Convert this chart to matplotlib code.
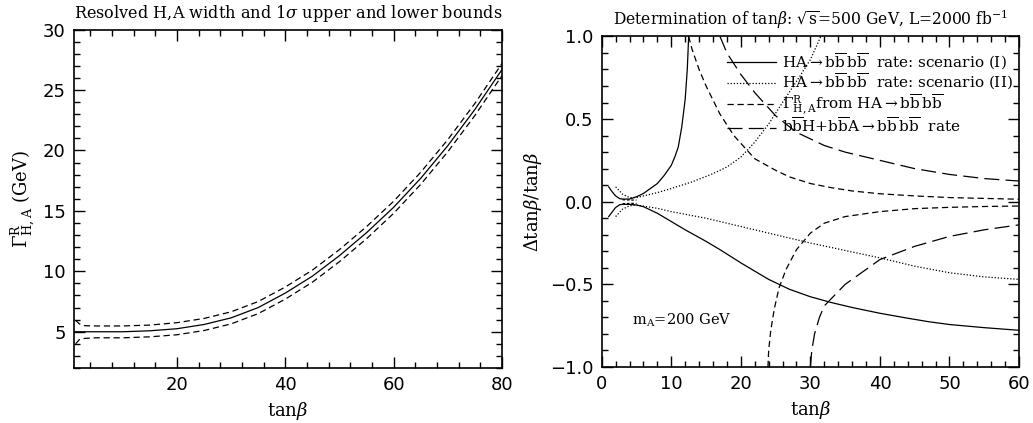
import matplotlib
matplotlib.use("Agg")
import matplotlib.pyplot as plt
from matplotlib.ticker import MultipleLocator, FuncFormatter

plt.rcParams["font.family"] = ["DejaVu Serif"]
plt.rcParams["mathtext.fontset"] = "dejavuserif"

# left panel: resolved width and 1 sigma bounds
width_tb = [1, 5, 10, 15, 20, 25, 30, 35, 40, 45, 50, 55, 60, 65, 70, 75, 80]
width_central = [5.0, 5.0, 5.0, 5.08, 5.25, 5.6, 6.15, 7.0, 8.2, 9.6, 11.3, 13.2, 15.3, 17.7, 20.4, 23.4, 26.7]
bound_tb = [1.3, 2, 3, 5, 10, 15, 20, 25, 30, 35, 40, 45, 50, 55, 60, 65, 70, 75, 80]
width_upper = [5.95, 5.65, 5.5, 5.48, 5.48, 5.55, 5.75, 6.1, 6.65, 7.5, 8.7, 10.1, 11.8, 13.7, 15.8, 18.2, 20.9, 23.9, 27.2]
width_lower = [4.0, 4.35, 4.45, 4.5, 4.5, 4.58, 4.75, 5.1, 5.65, 6.5, 7.7, 9.1, 10.8, 12.7, 14.8, 17.2, 19.9, 22.9, 26.2]

# right panel: relative tan(beta) errors
s1_up_tb = [1, 1.5, 2, 2.6, 3, 4, 5, 6, 7, 8, 9, 10, 10.5, 11, 11.5, 12, 12.3, 12.5]
s1_up = [0.09, 0.06, 0.035, 0.018, 0.016, 0.016, 0.03, 0.05, 0.08, 0.11, 0.16, 0.22, 0.27, 0.33, 0.45, 0.62, 0.8, 1.0]
s1_lo_tb = [1, 2, 2.6, 3, 4, 5, 6, 8, 10, 12, 15, 17, 20, 24, 27, 30, 33, 36, 40, 44, 47, 50, 55, 60]
s1_lo = [-0.09, -0.035, -0.018, -0.016, -0.016, -0.02, -0.03, -0.07, -0.12, -0.17, -0.24, -0.29, -0.37, -0.47, -0.53, -0.575, -0.61, -0.64, -0.675, -0.705, -0.726, -0.743, -0.762, -0.778]

s2_up_tb = [2, 3, 4, 5, 8, 10, 13, 16, 18, 20, 22, 24, 25.6, 28.5, 30, 31.5]
s2_up = [0.09, 0.045, 0.025, 0.025, 0.055, 0.08, 0.12, 0.17, 0.21, 0.27, 0.36, 0.47, 0.575, 0.76, 0.86, 1.0]
s2_lo_tb = [2, 3, 4, 5, 8, 10, 15, 20, 25, 30, 35, 40, 45, 50, 55, 60]
s2_lo = [-0.09, -0.045, -0.025, -0.02, -0.04, -0.06, -0.1, -0.15, -0.2, -0.25, -0.295, -0.34, -0.39, -0.43, -0.455, -0.47]

gam_up_tb = [12.5, 13, 14, 15, 17, 19, 22, 25, 27, 30, 33, 36, 40, 45, 50, 55, 60]
gam_up = [1.0, 0.92, 0.8, 0.7, 0.53, 0.4, 0.26, 0.19, 0.15, 0.11, 0.085, 0.065, 0.048, 0.035, 0.025, 0.02, 0.015]
gam_lo_tb = [23.9, 24.0, 24.3, 24.8, 25.5, 26.5, 28, 30, 32, 35, 40, 45, 50, 55, 60]
gam_lo = [-1.0, -0.9, -0.78, -0.65, -0.52, -0.41, -0.29, -0.19, -0.13, -0.09, -0.06, -0.042, -0.034, -0.029, -0.026]
gam_small_tb = [3.0, 4.0, 5.0]
gam_small_up = [0.012, 0.01, 0.01]
gam_small_lo = [-0.012, -0.01, -0.01]

bbh_up_tb = [17, 18, 20, 22, 25, 28, 32, 35, 40, 45, 50, 55, 60]
bbh_up = [1.0, 0.9, 0.77, 0.66, 0.52, 0.42, 0.34, 0.3, 0.25, 0.2, 0.165, 0.14, 0.125]
bbh_lo_tb = [30.0, 30.2, 30.6, 31.3, 32, 35, 40, 45, 50, 55, 60]
bbh_lo = [-1.0, -0.9, -0.8, -0.7, -0.63, -0.5, -0.35, -0.27, -0.21, -0.17, -0.14]

SANS = "DejaVu Sans"
LW = 0.9
DOT = (0, (1, 1.5))
SHORT = (0, (5, 3))
LONG = (0, (12, 5))


def style_axes(ax):
	ax.tick_params(which="both", direction="in", top=True, right=True, width=1)
	ax.tick_params(which="major", length=8, labelsize=13, pad=6)
	ax.tick_params(which="minor", length=4)
	for lab in ax.get_xticklabels() + ax.get_yticklabels():
		lab.set_fontfamily(SANS)
	for sp in ax.spines.values():
		sp.set_linewidth(1.2)


fig = plt.figure(figsize=(10.33, 4.23), dpi=100)
ax1 = fig.add_axes([0.0716, 0.130, 0.4144, 0.800])
ax2 = fig.add_axes([0.5825, 0.1324, 0.4040, 0.7815])

# ---- left
ax1.plot(width_tb, width_central, color="black", lw=LW)
ax1.plot(bound_tb, width_upper, color="black", lw=LW, linestyle=SHORT)
ax1.plot(bound_tb, width_lower, color="black", lw=LW, linestyle=SHORT)
ax1.set_xlim(1, 80)
ax1.set_ylim(2, 30)
ax1.xaxis.set_major_locator(MultipleLocator(20))
ax1.xaxis.set_minor_locator(MultipleLocator(4))
ax1.yaxis.set_major_locator(MultipleLocator(5))
ax1.yaxis.set_minor_locator(MultipleLocator(1))
style_axes(ax1)
ax1.set_xlabel(r"tan$\beta$", fontsize=13)
ax1.set_ylabel(r"$\Gamma^{\rm R}_{\rm H,A}$ (GeV)", fontsize=13)
ax1.set_title(r"Resolved H,A width and 1$\sigma$ upper and lower bounds", fontsize=11.6, pad=8)

# ---- right
bb = r"b$\overline{\rm b}\,$b$\overline{\rm b}$"
ax2.plot(s1_up_tb, s1_up, color="black", lw=LW, label="HA$\\rightarrow$" + bb + "  rate: scenario (I)")
ax2.plot(s1_lo_tb, s1_lo, color="black", lw=LW)
ax2.plot(s2_up_tb, s2_up, color="black", lw=LW, linestyle=DOT, label="HA$\\rightarrow$" + bb + "  rate: scenario (II)")
ax2.plot(s2_lo_tb, s2_lo, color="black", lw=LW, linestyle=DOT)
ax2.plot(gam_up_tb, gam_up, color="black", lw=LW, linestyle=SHORT, label=r"$\Gamma^{\rm R}_{\rm H,A}$from HA$\rightarrow$" + bb)
ax2.plot(gam_lo_tb, gam_lo, color="black", lw=LW, linestyle=SHORT)
ax2.plot(gam_small_tb, gam_small_up, color="black", lw=LW, linestyle=(0, (2, 1.5)))
ax2.plot(gam_small_tb, gam_small_lo, color="black", lw=LW, linestyle=(0, (2, 1.5)))
ax2.plot(bbh_up_tb, bbh_up, color="black", lw=LW, linestyle=LONG, label=r"b$\overline{\rm b}$H+b$\overline{\rm b}$A$\rightarrow$" + bb + "  rate")
ax2.plot(bbh_lo_tb, bbh_lo, color="black", lw=LW, linestyle=LONG)
ax2.set_xlim(0, 60)
ax2.set_ylim(-1, 1)
ax2.xaxis.set_major_locator(MultipleLocator(10))
ax2.xaxis.set_minor_locator(MultipleLocator(2))
ax2.yaxis.set_major_locator(MultipleLocator(0.5))
ax2.yaxis.set_minor_locator(MultipleLocator(0.1))
ax2.yaxis.set_major_formatter(FuncFormatter(lambda v, p: f"{v:.1f}".replace("-", "\u2212")))
style_axes(ax2)
ax2.set_xlabel(r"tan$\beta$", fontsize=13)
ax2.set_ylabel(r"$\Delta$tan$\beta$/tan$\beta$", fontsize=13)
ax2.set_title(r"Determination of tan$\beta$: $\sqrt{\rm s}$=500 GeV, L=2000 fb$^{-1}$", fontsize=11.2, pad=8)
ax2.text(4.3, -0.72, r"m$_{\rm A}$=200 GeV", fontsize=10.5, va="center")

ax2.legend(loc="upper left", bbox_to_anchor=(0.2995, 0.955), frameon=False, fontsize=11,
	handlelength=3.2, handletextpad=0.4, labelspacing=0.0, borderpad=0, borderaxespad=0)

fig.savefig("out.png", dpi=100)
